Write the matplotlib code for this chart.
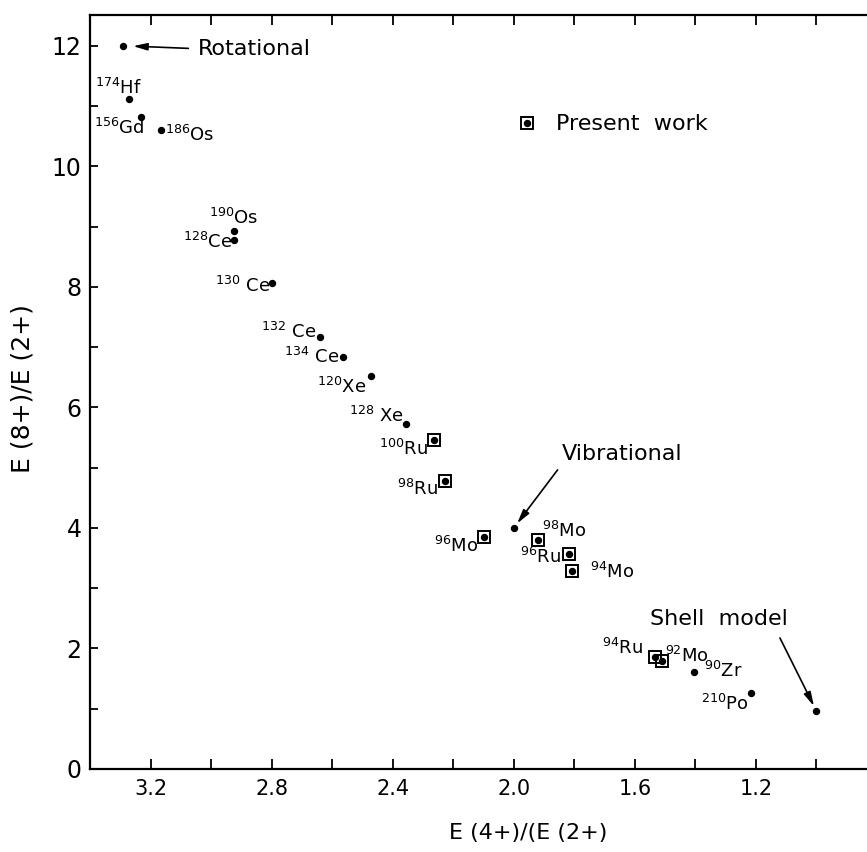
import matplotlib
matplotlib.use("Agg")
import matplotlib.pyplot as plt
from matplotlib.lines import Line2D

plt.rcParams['font.family'] = ['DejaVu Sans']
plt.rcParams['mathtext.fontset'] = 'dejavusans'

# Nuclides: mass number, element, E(4+)/E(2+), E(8+)/E(2+), measured in this work
mass = ['174', '156', '186', '190', '128', '130', '132', '134', '120', '128',
        '100', '98', '96', '98', '96', '94', '94', '92', '90', '210']
element = ['Hf', 'Gd', 'Os', 'Os', 'Ce', 'Ce', 'Ce', 'Ce', 'Xe', 'Xe',
           'Ru', 'Ru', 'Mo', 'Mo', 'Ru', 'Mo', 'Ru', 'Mo', 'Zr', 'Po']
r42 = [3.27, 3.23, 3.165, 2.925, 2.925, 2.80, 2.64, 2.565, 2.47, 2.357,
       2.263, 2.227, 2.098, 1.919, 1.817, 1.806, 1.533, 1.509, 1.406, 1.215]
r82 = [11.11, 10.81, 10.61, 8.92, 8.785, 8.07, 7.175, 6.83, 6.52, 5.73,
       5.465, 4.78, 3.845, 3.80, 3.575, 3.29, 1.85, 1.79, 1.615, 1.26]
present = [False, False, False, False, False, False, False, False, False, False,
           True, True, True, True, True, True, True, True, False, False]

# Limiting models
model_names = ['Rotational', 'Vibrational', 'Shell  model']
model_r42 = [3.29, 2.0, 1.0]
model_r82 = [12.0, 4.0, 0.96]

x_major = [3.2, 2.8, 2.4, 2.0, 1.6, 1.2]

# label placement (pixel offsets of label left/baseline from the point)
label_dx = [-34, -47, 4, -25, -51, -57, -59, -59, -54, -57,
            -55, -48, -50, 4, -49, 18, -53, 3, 10, -50]
label_dy = [5, -17, -11, 7, -8, -9, -1, -6, -17, 2,
            -15, -14, -15, 3, -9, -7, 3, -1, -5, -17]
label_gap = ['', '', '', '', '', ' ', ' ', ' ', '', ' ',
             '', '', '', '', '', '', '', '', '', '']

fig = plt.figure(figsize=(8.67, 8.52), dpi=100)
ax = fig.add_axes([90 / 867, 83 / 852, 777 / 867, 754 / 852])

ax.set_xlim(3.40, 0.833)
ax.set_ylim(0, 12.51)

# data points
ax.plot(r42, r82, 'o', color='black', ms=4.3, ls='none', zorder=3)
px = [x for x, p in zip(r42, present) if p]
py = [y for y, p in zip(r82, present) if p]
ax.plot(px, py, 's', mfc='none', mec='black', mew=1.4, ms=8, ls='none', zorder=3)
ax.plot(model_r42, model_r82, 'o', color='black', ms=4.3, ls='none', zorder=3)

PT = 0.72  # points per pixel
for m, el, g, x, y, dx, dy in zip(mass, element, label_gap, r42, r82, label_dx, label_dy):
    ax.annotate(rf'$^{{{m}}}${g}{el}', (x, y), xytext=(dx * PT, dy * PT),
                textcoords='offset points', ha='left', va='baseline', fontsize=13)

# model annotations with arrows
arrow_kw = dict(arrowstyle='-|>,head_length=0.7,head_width=0.18', color='black',
                lw=1.2, mutation_scale=12)
ax.annotate(model_names[0], (model_r42[0], model_r82[0]), xytext=(3.043, 11.85),
            textcoords='data', ha='left', va='baseline', fontsize=16,
            arrowprops=dict(arrow_kw, relpos=(0, 0.5), shrinkA=5, shrinkB=7))
ax.annotate(model_names[1], (model_r42[1], model_r82[1]), xytext=(1.840, 5.13),
            textcoords='data', ha='left', va='baseline', fontsize=16,
            arrowprops=dict(arrow_kw, relpos=(0, 0), shrinkA=3, shrinkB=4))
ax.annotate(model_names[2], (model_r42[2], model_r82[2]), xytext=(1.550, 2.39),
            textcoords='data', ha='left', va='baseline', fontsize=16,
            arrowprops=dict(arrow_kw, relpos=(0.91, 0), shrinkA=5, shrinkB=4))

# legend for present work
handle = Line2D([], [], marker='s', mfc='none', mec='black', mew=1.4, ms=8, ls='none')
dot = Line2D([], [], marker='o', color='black', ms=4.3, ls='none')
leg = ax.legend([(handle, dot)], ['Present  work'], loc='center left',
                bbox_to_anchor=(0.548, 0.855), frameon=False, fontsize=16,
                handlelength=1.0, handletextpad=0.8, borderpad=0, borderaxespad=0)

# axes styling
for side in ['left', 'bottom', 'top']:
    ax.spines[side].set_linewidth(1.6)
ax.spines['right'].set_visible(False)

ax.set_xticks(x_major)
ax.set_xticklabels([f'{v:.1f}' for v in x_major])
ax.set_xticks([3.0, 2.6, 2.2, 1.8, 1.4, 1.0], minor=True)
ax.set_yticks([0, 2, 4, 6, 8, 10, 12])
ax.set_yticks([1, 3, 5, 7, 9, 11], minor=True)

ax.tick_params(axis='x', which='both', direction='in', top=True, length=7,
               width=1.3, labelsize=15, pad=7)
ax.tick_params(axis='y', which='both', direction='in', right=False, length=6,
               width=1.3, labelsize=17, pad=6)

ax.set_xlabel('E (4+)/(E (2+)', fontsize=16)
ax.xaxis.set_label_coords(0.564, -0.072)
ax.set_ylabel('E (8+)/E (2+)', fontsize=18)
ax.yaxis.set_label_coords(-0.072, 0.505)

fig.savefig('out.png', dpi=100)
